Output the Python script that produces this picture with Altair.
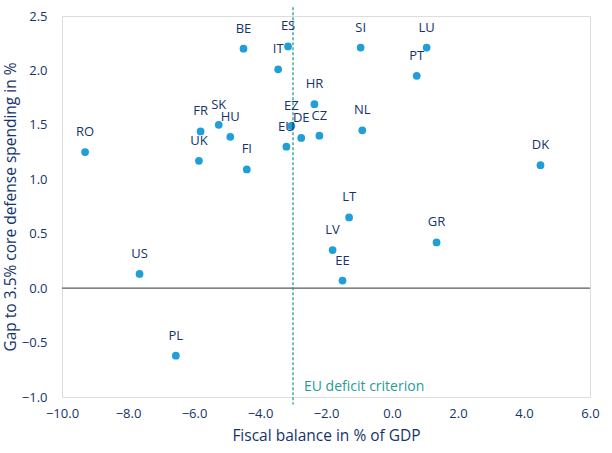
import altair as alt
import pandas as pd

countries = ["RO", "UK", "FR", "SK", "HU", "FI", "BE", "IT", "ES", "EZ", "EU", "DE",
             "HR", "CZ", "NL", "SI", "LU", "PT", "DK", "LT", "GR", "LV", "EE", "US", "PL"]
fiscal_balance = [-9.3, -5.85, -5.8, -5.25, -4.9, -4.4, -4.5, -3.45, -3.15, -3.05, -3.2, -2.75,
                  -2.35, -2.2, -0.9, -0.95, 1.05, 0.75, 4.5, -1.3, 1.35, -1.8, -1.5, -7.65, -6.55]
defense_gap = [1.25, 1.17, 1.44, 1.50, 1.39, 1.09, 2.20, 2.01, 2.22, 1.49, 1.30, 1.38,
               1.69, 1.40, 1.45, 2.21, 2.21, 1.95, 1.13, 0.65, 0.42, 0.35, 0.07, 0.13, -0.62]

x_ticks = [-10, -8, -6, -4, -2, 0, 2, 4, 6]
y_ticks = [-1.0, -0.5, 0.0, 0.5, 1.0, 1.5, 2.0, 2.5]
criterion_x = [-3.0]
criterion_label = ["EU deficit criterion"]

NAVY = "#15346a"
BLUE = "#1e9fd8"
TEAL = "#2a9a94"
FONT = "Open Sans"

df = pd.DataFrame({"country": countries, "x": fiscal_balance, "y": defense_gap})

xscale = alt.Scale(domain=[-10, 6], nice=False, zero=False)
yscale = alt.Scale(domain=[-1.0, 2.5], nice=False, zero=False)

xenc = alt.X("x:Q", scale=xscale,
             axis=alt.Axis(title="Fiscal balance in % of GDP", values=x_ticks, format=".1f",
                           grid=False, domain=False, ticks=False, labelPadding=10,
                           labelFlush=False, labelOverlap=False,
                           labelFontSize=13, labelColor=NAVY, titleFontSize=15.5,
                           titleColor=NAVY, titleFontWeight="normal", titlePadding=8,
                           labelFont=FONT, titleFont=FONT))
yenc = alt.Y("y:Q", scale=yscale,
             axis=alt.Axis(title="Gap to 3.5% core defense spending in %", values=y_ticks,
                           format=".1f", grid=False, domain=False, ticks=False,
                           labelPadding=15, labelFlush=False, labelOverlap=False,
                           labelFontSize=13, labelColor=NAVY,
                           titleFontSize=15.5, titleColor=NAVY, titleFontWeight="normal",
                           titlePadding=3, labelFont=FONT, titleFont=FONT))

zero_df = pd.DataFrame({"x": [x_ticks[0]], "x2": [x_ticks[-1]], "y": [0.0]})
zero_line = alt.Chart(zero_df).mark_rule(color="#5a5a5a", strokeWidth=1.3).encode(
    x=alt.X("x:Q", scale=xscale), x2="x2:Q", y=alt.Y("y:Q", scale=yscale))

crit_df = pd.DataFrame({"x": criterion_x, "y": [2.58], "y2": [-1.07], "label": criterion_label,
                        "ty": [-0.91]})
crit_line = alt.Chart(crit_df).mark_rule(color=TEAL, strokeWidth=1.3, strokeDash=[3, 2]).encode(
    x=alt.X("x:Q", scale=xscale), y=alt.Y("y:Q", scale=yscale), y2="y2:Q")
crit_text = alt.Chart(crit_df).mark_text(align="left", baseline="middle", dx=11, fontSize=14,
                                         color=TEAL, font=FONT).encode(
    x=alt.X("x:Q", scale=xscale), y=alt.Y("ty:Q", scale=yscale), text="label:N")

points = alt.Chart(df).mark_circle(size=60, color=BLUE, opacity=1).encode(x=xenc, y=yenc)
labels = alt.Chart(df).mark_text(dy=-20, fontSize=13, color=NAVY, font=FONT,
                                 baseline="middle").encode(
    x=alt.X("x:Q", scale=xscale), y=alt.Y("y:Q", scale=yscale), text="country:N")

chart = alt.layer(zero_line, crit_line, points, labels, crit_text).properties(
    width=528, height=381,
    autosize=alt.AutoSizeParams(type="none"),
    padding={"left": 62, "top": 16, "right": 22, "bottom": 56},
).configure_view(stroke=None).configure(background="white")

chart.save("out.html", embed_options={"renderer": "svg", "actions": False})
